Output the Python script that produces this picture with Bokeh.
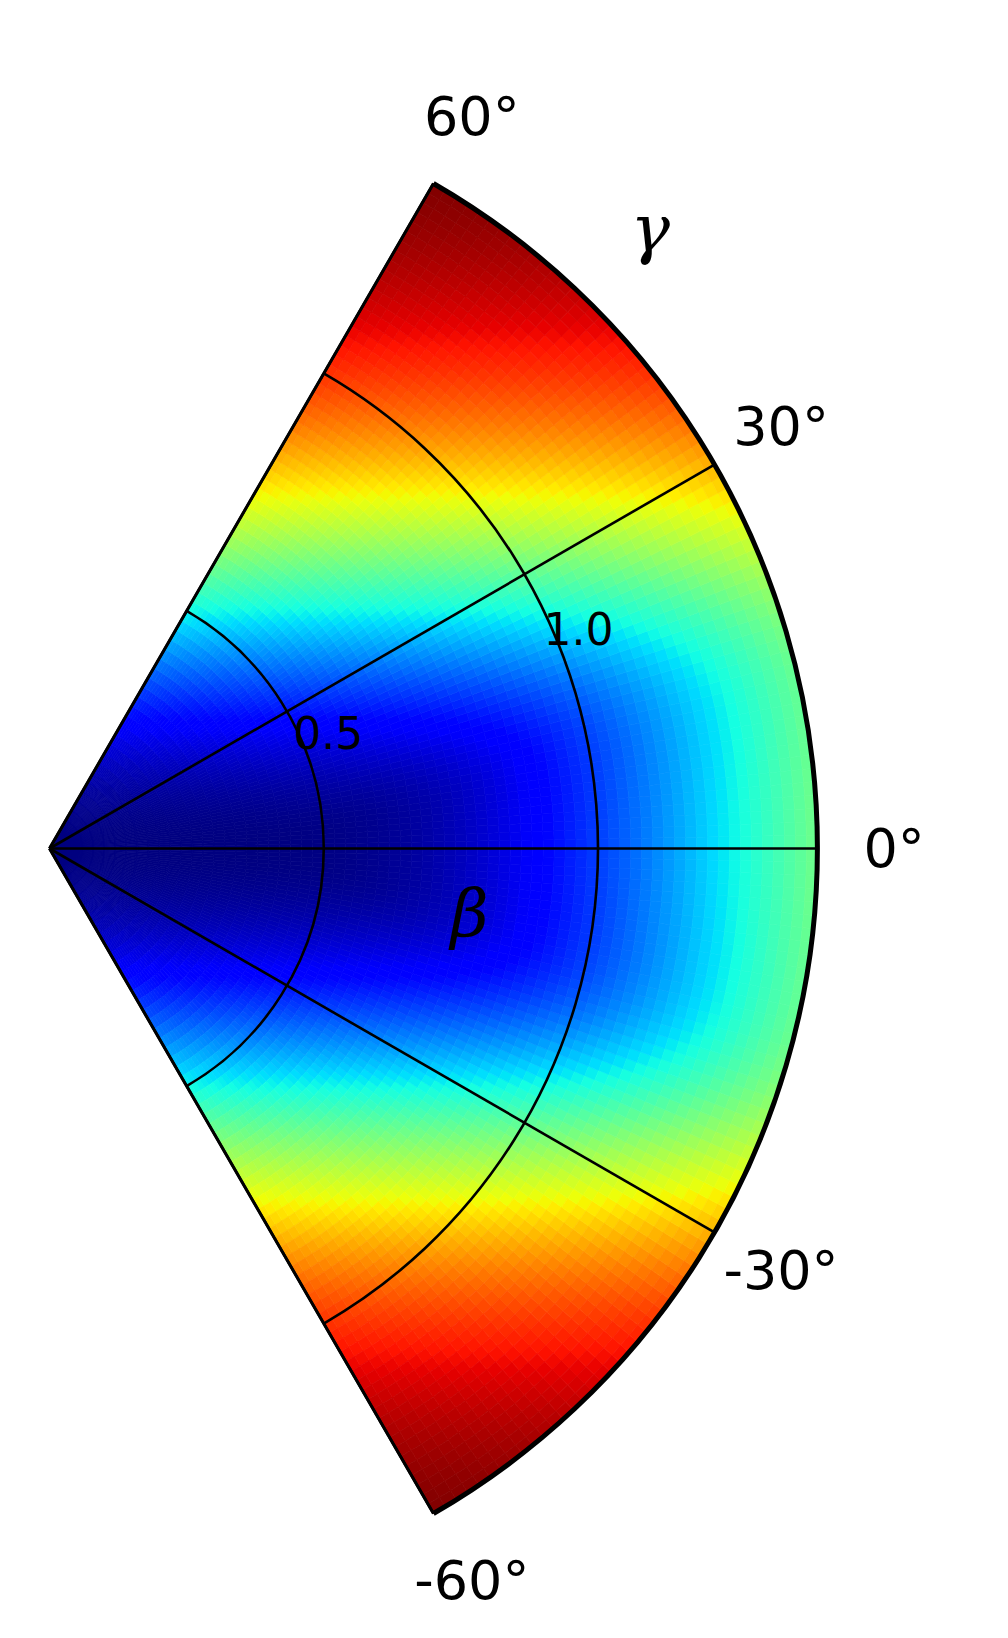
import numpy as np
from bokeh.plotting import figure
from bokeh.models import Range1d, ColumnDataSource
from bokeh.core.properties import value
from bokeh.embed import file_html
from bokeh.resources import INLINE

# ---------------- data ----------------
GAMMA_TICKS = [-60, -30, 0, 30, 60]          # degrees
GAMMA_LABELS = ["-60°", "-30°", "0°", "30°", "60°"]
R_TICKS = [0.5, 1.0]
R_LABELS = ["0.5", "1.0"]
R_MAX = 1.4
GAMMA_MIN, GAMMA_MAX = -60, 60

# grid of the colour mesh (beta, gamma)
N_BETA = 70
N_GAMMA = 120

# parameters of the surface
Y_SCALE = 0.65      # growth scale along beta*sin(gamma)
X_START = 0.50      # beta*cos(gamma) where the rise along gamma=0 starts
X_SLOPE = 0.576
X_SOFT = 0.10
P_NORM = 4.5

# ---------------- field ----------------
b_edges = np.linspace(0.0, R_MAX, N_BETA + 1)
g_edges = np.radians(np.linspace(GAMMA_MIN, GAMMA_MAX, N_GAMMA + 1))
bc = 0.5 * (b_edges[:-1] + b_edges[1:])
gc = 0.5 * (g_edges[:-1] + g_edges[1:])
B, G = np.meshgrid(bc, gc, indexing="ij")
X = B * np.cos(G)
Y = np.abs(B * np.sin(G))
GX = X_SLOPE * X_SOFT * np.log1p(np.exp((X - X_START) / X_SOFT))
U = (GX ** P_NORM + Y ** P_NORM) ** (1.0 / P_NORM)
ymax = R_MAX * np.sin(np.radians(GAMMA_MAX))
V = (1 - np.exp(-(U / Y_SCALE) ** 2)) / (1 - np.exp(-(ymax / Y_SCALE) ** 2))
V = np.clip(V, 0, 1)

# jet colormap
def jet(v):
    r = np.interp(v, [0, 0.35, 0.66, 0.89, 1], [0, 0, 1, 1, 0.5])
    g = np.interp(v, [0, 0.125, 0.375, 0.64, 0.91, 1], [0, 0, 1, 1, 0, 0])
    b = np.interp(v, [0, 0.11, 0.34, 0.65, 1], [0.5, 1, 1, 0, 0])
    return ["#%02x%02x%02x" % (int(round(a * 255)), int(round(c * 255)), int(round(d * 255)))
            for a, c, d in zip(r, g, b)]

inner = np.repeat(b_edges[:-1], N_GAMMA)
outer = np.repeat(b_edges[1:], N_GAMMA)
start = np.tile(g_edges[:-1], N_BETA)
end = np.tile(g_edges[1:], N_BETA)
colors = jet(V.ravel())

mesh = ColumnDataSource(dict(x=np.zeros(inner.size), y=np.zeros(inner.size),
                             ri=inner, ro=outer, sa=start, ea=end, c=colors))

# ---------------- figure ----------------
W, H = 992, 1622
SCALE = 548.5
ox, oy = 49, 848
x0 = -ox / SCALE
x1 = x0 + W / SCALE
y1 = oy / SCALE
y0 = y1 - H / SCALE

p = figure(width=W, height=H, x_range=Range1d(x0, x1), y_range=Range1d(y0, y1),
           output_backend="svg", toolbar_location=None,
           x_axis_location=None, y_axis_location=None,
           min_border=0, min_border_left=0, min_border_right=0,
           min_border_top=0, min_border_bottom=0)
p.grid.visible = False
p.outline_line_color = None
p.background_fill_color = "white"
p.border_fill_color = "white"

p.annular_wedge(x="x", y="y", inner_radius="ri", outer_radius="ro",
                start_angle="sa", end_angle="ea", fill_color="c",
                line_color="c", line_width=0.7, source=mesh)

# radial grid lines (gamma)
gt = np.radians(GAMMA_TICKS)
p.segment(x0=np.zeros(len(gt)), y0=np.zeros(len(gt)),
          x1=R_MAX * np.cos(gt), y1=R_MAX * np.sin(gt),
          line_color="black", line_width=2.6)
# beta circles
p.arc(x=[0] * len(R_TICKS), y=[0] * len(R_TICKS), radius=R_TICKS,
      start_angle=np.radians(GAMMA_MIN), end_angle=np.radians(GAMMA_MAX),
      line_color="black", line_width=2.6)
# frame edges
ge = np.radians([GAMMA_MIN, GAMMA_MAX])
p.segment(x0=[0, 0], y0=[0, 0], x1=R_MAX * np.cos(ge), y1=R_MAX * np.sin(ge),
          line_color="black", line_width=3.0)
p.arc(x=[0], y=[0], radius=[R_MAX], start_angle=np.radians(GAMMA_MIN),
      end_angle=np.radians(GAMMA_MAX), line_color="black", line_width=5.0)

# gamma tick labels
r_lab = 1.1 * R_MAX
p.text(x=r_lab * np.cos(gt), y=r_lab * np.sin(gt), text=GAMMA_LABELS,
       text_font=value("DejaVu Sans"), text_font_size=value("54px"),
       text_align="center", text_baseline="middle", text_color="black")

# beta tick labels (anchored next to each circle at 22.5 deg)
rl_r = np.array([0.481, 0.975])
rl_t = np.radians([22.5, 22.5])
LIFT = 0.028
p.text(x=rl_r * np.cos(rl_t), y=rl_r * np.sin(rl_t) + LIFT, text=R_LABELS,
       text_font=value("DejaVu Sans"), text_font_size=value("44px"),
       text_align="left", text_baseline="alphabetic", text_color="black")

# axis names
nm_x = np.array([0.766 , 1.095])
nm_y = np.array([-0.118, 1.130])
p.text(x=nm_x, y=nm_y, text=["β", "γ"],
       text_font=value("DejaVu Serif"), text_font_style="italic",
       text_font_size=value("66px"), text_align="center", text_baseline="middle",
       text_color="black")

open("out.html", "w").write(file_html(p, INLINE))
